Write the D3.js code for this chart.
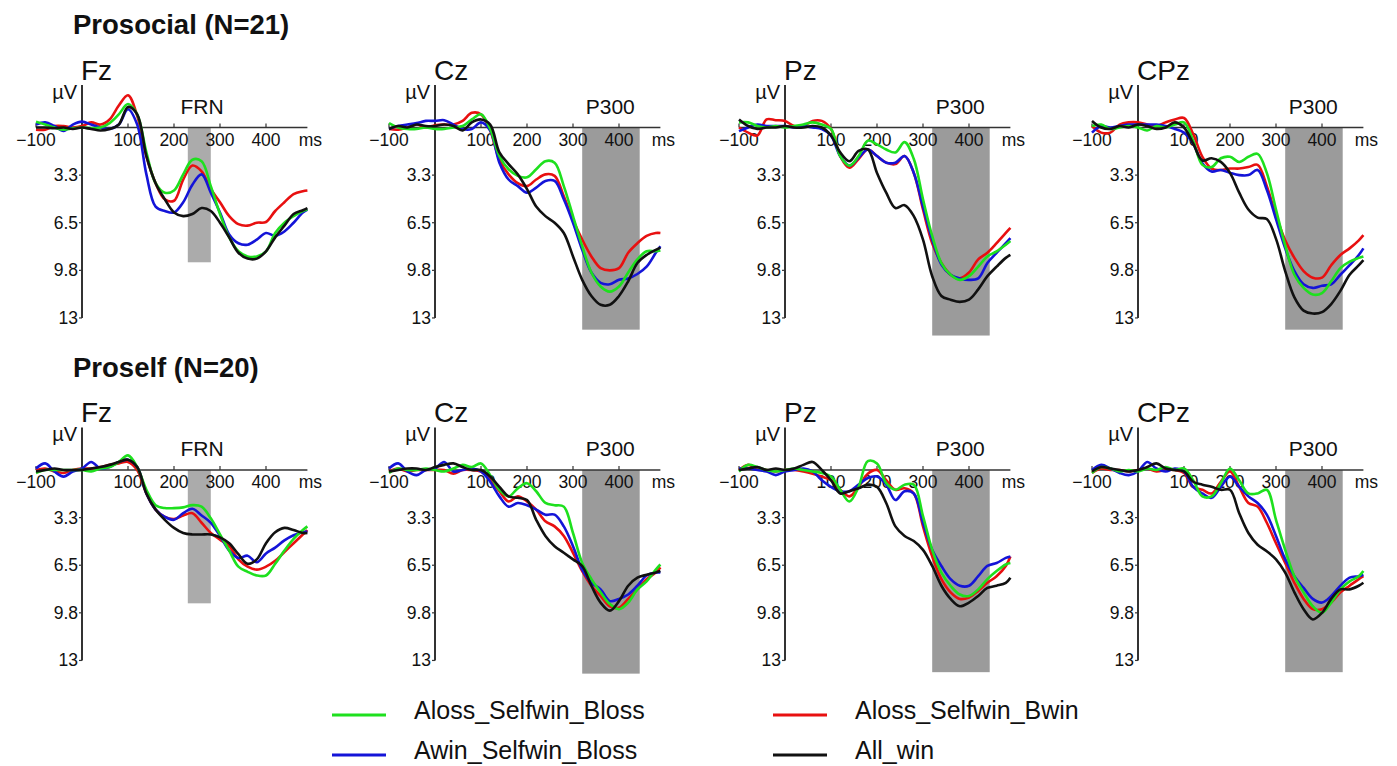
<!DOCTYPE html>
<meta charset="utf-8">
<style>
body { margin: 0; background: #fff; }
text { font-family: "Liberation Sans", Arial, sans-serif; fill: #111; }
.title { font-weight: bold; font-size: 27.5px; }
.elec { font-size: 28px; }
.unit { font-size: 20px; }
.tick { font-size: 17.5px; }
.win { font-size: 21px; }
.legend { font-size: 25px; }
.axis { stroke: #333; fill: none; }
.erp { fill: none; stroke-width: 2.6; stroke-linejoin: round; }
</style>
<svg width="1397" height="766"></svg>
<script src="https://d3js.org/d3.v7.min.js"></script>
<script>

var times = [-100,-80,-60,-40,-20,0,20,40,60,80,100,120,140,160,180,200,220,240,260,280,300,320,340,360,380,400,420,440,460,480,490];

var conditions = ["Aloss_Selfwin_Bloss", "Aloss_Selfwin_Bwin", "Awin_Selfwin_Bloss", "All_win"];
var colors = ["#1ee01e", "#e81010", "#1414d8", "#111111"];

var yTicks = [3.25, 6.5, 9.75, 13];
var yTickLabels = ["3.3", "6.5", "9.8", "13"];
var xTicks = [-100, 100, 200, 300, 400];
var xTickLabels = ["\u2212100", "100", "200", "300", "400"];

// Prosocial (N=21)
var proFzAlossBloss = [-0.4,-0.2,0.0,0.15,0.05,0.0,0.05,0.0,-0.3,-0.9,-1.6,-0.9,1.7,3.8,4.45,4.3,3.2,2.2,2.3,4.0,5.9,7.5,8.45,8.8,8.8,8.45,7.2,6.5,6.05,5.7,5.6];
var proFzAlossBwin  = [0.15,0.15,-0.1,-0.1,0.0,-0.1,-0.35,-0.2,-0.55,-1.5,-2.2,-0.8,1.95,3.8,4.9,5.0,3.55,2.6,3.0,4.2,5.1,6.05,6.6,6.7,6.5,6.45,5.7,5.1,4.55,4.35,4.3];
var proFzAwinBloss  = [-0.2,-0.35,-0.1,0.23,-0.2,-0.4,-0.2,0.0,0.1,-0.2,-1.25,-0.2,3.2,5.4,5.7,5.8,5.1,3.9,3.2,4.45,5.8,7.3,7.9,8.0,7.65,7.2,7.4,7.1,6.5,5.8,5.6];
var proFzAllWin     = [0,0,0.05,0,0.1,0,0.1,0.2,0.1,-0.2,-1.4,-0.9,1.95,3.8,4.9,5.8,6.05,5.9,5.5,5.7,6.5,7.5,8.55,8.95,8.95,8.45,7.5,6.7,5.9,5.65,5.5];

var proCzAlossBloss = [-0.3,0,0.1,0.1,0,0.1,0.1,0,-0.1,-0.55,-0.9,0.1,1.95,2.85,3.3,3.4,2.85,2.3,2.4,4.0,6.05,8.1,9.9,10.85,11.2,10.85,9.9,9.0,8.45,8.45,8.4];
var proCzAlossBwin  = [0.1,0.15,0,-0.2,0,-0.15,-0.2,-0.2,-0.45,-1.0,-0.9,0.2,2.2,3.2,3.8,4.0,3.55,3.2,3.3,4.7,6.3,7.65,8.8,9.6,9.75,9.6,8.55,7.9,7.4,7.2,7.2];
var proCzAwinBloss  = [0.1,-0.1,-0.2,-0.3,-0.45,-0.45,-0.5,-0.2,0.1,0.1,-0.35,0.2,2.4,3.55,4.0,4.45,4.1,3.65,3.65,4.9,6.5,8.35,9.9,10.6,10.7,10.4,10.3,10.0,9.5,8.55,8.1];
var proCzAllWin     = [0.1,-0.1,0,-0.2,-0.1,-0.1,-0.2,-0.1,0.2,-0.35,-0.55,-0.2,1.7,2.5,3.2,4.2,5.4,6.05,6.5,7.2,8.8,10.4,11.5,12.1,12.1,11.5,10.5,9.25,8.7,8.35,8.2];

var proPzAlossBloss = [-0.35,-0.35,-0.1,0,-0.1,0,-0.1,-0.2,-0.35,-0.2,0.1,1.95,2.6,1.95,0.9,1.15,1.5,1.7,1.0,2.15,4.9,7.4,9.25,10.05,10.4,10.15,9.5,8.8,8.45,8.0,7.75];
var proPzAlossBwin  = [0,0.35,0.55,-0.55,-0.5,-0.45,-0.1,-0.1,-0.45,-0.45,0.1,1.95,2.75,2.15,1.5,1.95,2.4,2.5,1.95,3.1,5.6,7.9,9.25,10.05,10.3,9.9,9.0,8.55,7.9,7.2,6.85];
var proPzAwinBloss  = [0.25,0,-0.2,-0.1,-0.1,-0.1,0,-0.1,0,0.1,0.55,1.95,2.6,2.05,1.5,1.95,2.4,2.4,1.95,3.1,5.4,7.65,9.35,10.05,10.3,10.4,10.3,9.25,8.55,7.9,7.55];
var proPzAllWin     = [-0.55,-0.1,0.1,0,0,-0.1,0,0,-0.1,0,0.55,1.7,2.3,1.6,1.5,3.1,4.45,5.5,5.3,6.05,7.65,10.15,11.5,11.75,11.9,11.75,11.05,10.15,9.5,8.9,8.7];

var proCPzAlossBloss = [-0.1,-0.2,0.1,0,-0.1,0,0.2,-0.1,0,-0.2,-0.35,0.9,2.55,2.7,2.1,2.0,2.35,2.0,1.8,3.1,5.6,8.05,10.05,10.95,11.4,11.3,10.5,9.6,9.15,8.9,8.8];
var proCPzAlossBwin  = [-0.1,0.35,0.35,-0.2,-0.35,-0.35,-0.2,-0.1,-0.35,-0.55,-0.65,0.45,2.0,2.8,2.9,2.8,2.8,2.7,2.55,4.0,6.0,7.7,8.9,9.8,10.25,10.25,9.4,8.7,8.25,7.7,7.35];
var proCPzAwinBloss  = [0.35,-0.1,0,-0.1,-0.2,-0.2,-0.2,-0.2,-0.1,0.1,0.35,1.1,2.45,3.0,2.9,3.1,3.25,3.25,2.9,4.25,6.25,8.25,9.8,10.7,10.95,10.8,10.7,10.05,9.4,8.7,8.25];
var proCPzAllWin     = [-0.45,0,0.1,-0.1,0,-0.2,-0.1,0.1,0,-0.35,0,1.1,2.25,2.1,2.35,3.1,4.45,5.6,6.15,6.25,7.6,9.8,11.6,12.5,12.7,12.6,12.05,11.15,10.05,9.4,9.05];

// Proself (N=20)
var selfFzAlossBloss = [0.2,0,0,0,0,0,0.1,-0.1,-0.2,-0.55,-1.0,-0.2,1.35,2.4,2.6,2.6,2.55,2.4,2.5,3.3,4.4,5.5,6.6,6.95,7.2,7.2,6.4,5.5,4.7,4.1,3.85];
var selfFzAlossBwin  = [0,-0.1,0.1,0.2,0,-0.1,-0.1,-0.2,-0.35,-0.45,-0.55,0,1.6,2.7,3.2,3.35,3.1,2.95,3.6,4.3,4.75,5.2,6.1,6.6,6.8,6.6,6.2,5.6,5.0,4.4,4.1];
var selfFzAwinBloss  = [-0.1,-0.45,0.1,0.45,0.1,-0.1,-0.55,-0.1,-0.2,-0.55,-0.7,-0.2,1.6,2.7,3.2,3.4,2.95,2.65,3.1,3.6,4.5,5.5,6.0,5.85,6.3,5.7,5.3,4.8,4.45,4.25,4.2];
var selfFzAllWin     = [0.1,0,-0.1,0,0,0,-0.1,-0.2,-0.35,-0.55,-0.7,-0.2,1.6,2.7,3.4,3.95,4.3,4.4,4.4,4.4,4.6,5.0,5.75,6.4,6.1,5.0,4.25,3.95,4.1,4.3,4.3];

var selfCzAlossBloss = [0.2,-0.1,0,0,-0.1,0,0.1,-0.1,-0.35,-0.2,-0.45,0.35,1.35,1.8,1.25,0.9,1.45,2.25,2.4,2.5,4.3,6.35,7.45,8.35,9.15,9.5,9.05,8.15,7.6,6.8,6.45];
var selfCzAlossBwin  = [0.1,-0.1,0.1,0,0,0,0,0.25,0,0,0.1,0.65,1.45,2.15,1.8,2.15,2.7,3.5,3.85,4.5,5.65,6.9,7.9,8.6,9.3,9.4,8.8,8.15,7.45,7.0,6.65];
var selfCzAwinBloss  = [-0.1,-0.45,0.1,0.35,0,-0.1,-0.55,0.1,0,-0.1,0.1,0.8,1.8,2.5,2.25,2.4,2.7,3.05,3.05,3.85,5.2,6.8,7.7,8.15,8.95,8.8,8.5,7.9,7.2,7.0,7.0];
var selfCzAllWin     = [0.1,0,-0.1,-0.1,0,-0.2,-0.35,-0.45,-0.2,0,0,0.45,1.15,1.8,1.9,2.05,3.4,4.5,5.2,5.65,6.1,6.55,7.9,9.05,9.6,8.95,7.9,7.35,7.15,7.0,6.9];

var selfPzAlossBloss = [0.1,-0.35,-0.2,0,0.1,0,-0.1,0,0.1,0.2,0.45,1.35,2.15,1.15,-0.6,-0.45,0.9,1.35,1.0,1.0,3.15,5.45,7.0,7.9,8.5,8.6,8.15,7.45,6.9,6.45,6.35];
var selfPzAlossBwin  = [0,-0.35,-0.1,0,0.1,0,0,0.1,0.25,0.45,0.7,1.35,1.8,1.15,0.25,0,0.7,1.35,1.25,1.6,3.85,5.9,7.45,8.35,8.8,8.7,8.25,7.7,7.25,6.55,5.9];
var selfPzAwinBloss  = [-0.1,-0.1,0,0.1,0.35,0.1,0,-0.1,0.1,0.7,1.15,1.45,1.45,1.0,0.55,0.45,1.0,2.05,1.45,1.6,3.6,5.45,6.55,7.45,7.9,7.9,7.25,6.55,6.35,6.0,5.9];
var selfPzAllWin     = [0,-0.1,-0.2,0,-0.1,0,-0.1,-0.35,-0.55,0,0.7,1.6,1.45,1.25,1.0,1.15,2.25,3.85,4.5,4.85,5.45,6.55,7.9,8.8,9.3,9.05,8.6,8.05,7.9,7.7,7.35];

var selfCPzAlossBloss = [0.2,-0.2,-0.1,0.1,0,0.1,-0.1,0,-0.2,0,-0.1,0.7,1.8,1.8,0.9,-0.1,0.7,1.6,1.6,1.35,3.4,5.45,7.25,8.35,9.3,9.75,9.05,8.15,7.6,7.25,6.9];
var selfCPzAlossBwin  = [0.2,-0.1,0,0,0.1,0,-0.1,0.1,0,0,0.2,1.15,1.35,1.6,0.8,0.1,1.15,2.25,2.5,3.6,5.0,6.35,7.7,8.8,9.5,9.5,9.05,8.35,7.9,7.45,7.25];
var selfCPzAwinBloss  = [0,-0.35,-0.1,0.2,0.35,0.1,-0.55,-0.1,0.1,-0.1,0.1,1.15,1.6,1.9,1.15,0.45,1.15,1.8,2.25,3.05,4.5,6.1,7.25,8.05,8.8,9.05,8.6,7.9,7.35,7.25,7.15];
var selfCPzAllWin     = [0.1,-0.2,-0.1,0,0.1,0,-0.2,-0.45,-0.1,0,0.1,0.8,1.0,1.15,1.35,1.35,2.95,4.3,5.1,5.55,6.1,7.0,8.35,9.5,10.2,9.75,8.8,8.15,8.15,7.9,7.7];

// analysis windows in ms, and how deep each panel's shading reaches (µV)
var frnWindow = [230, 280];
var p300Window = [320, 445];
var windowDepth = [9.2, 13.8, 14.2, 13.8, 9.1, 13.9, 13.8, 13.8];

var electrodes = ["Fz", "Cz", "Pz", "CPz"];
var groupTitles = ["Prosocial (N=21)", "Proself (N=20)"];

var series = [
  [proFzAlossBloss, proFzAlossBwin, proFzAwinBloss, proFzAllWin],
  [proCzAlossBloss, proCzAlossBwin, proCzAwinBloss, proCzAllWin],
  [proPzAlossBloss, proPzAlossBwin, proPzAwinBloss, proPzAllWin],
  [proCPzAlossBloss, proCPzAlossBwin, proCPzAwinBloss, proCPzAllWin],
  [selfFzAlossBloss, selfFzAlossBwin, selfFzAwinBloss, selfFzAllWin],
  [selfCzAlossBloss, selfCzAlossBwin, selfCzAwinBloss, selfCzAllWin],
  [selfPzAlossBloss, selfPzAlossBwin, selfPzAwinBloss, selfPzAllWin],
  [selfCPzAlossBloss, selfCPzAlossBwin, selfCPzAwinBloss, selfCPzAllWin]
];

var svg = d3.select("svg");

// layout
var axisX = [82, 435, 785, 1138];
var zeroY = [127.5, 470];
var pxPer100ms = 46;
var pxPerUv = 14.65;

// group titles
groupTitles.forEach(function(t, i) {
  svg.append("text").attr("class", "title")
    .attr("x", 73).attr("y", i === 0 ? 34 : 377).text(t);
});

series.forEach(function(lines, p) {
  var row = Math.floor(p / 4), col = p % 4;
  var ax = axisX[col], zy = zeroY[row];

  var x = d3.scaleLinear().domain([0, 100]).range([ax, ax + pxPer100ms]);
  var y = d3.scaleLinear().domain([0, 13]).range([zy, zy + 13 * pxPerUv]);

  var g = svg.append("g");

  // window shading
  var isFrn = col === 0;
  var win = isFrn ? frnWindow : p300Window;
  g.append("rect")
    .attr("x", x(win[0]))
    .attr("y", y(0))
    .attr("width", x(win[1]) - x(win[0]))
    .attr("height", y(windowDepth[p]) - y(0))
    .attr("fill", isFrn ? "#ababab" : "#9b9b9b");

  g.append("text").attr("class", "win")
    .attr("x", x(isFrn ? 261 : 381)).attr("y", zy - 14)
    .attr("text-anchor", "middle")
    .text(isFrn ? "FRN" : "P300");

  // x axis
  g.append("line").attr("class", "axis")
    .attr("x1", x(-100)).attr("x2", x(490))
    .attr("y1", zy).attr("y2", zy)
    .attr("stroke-width", 1.5);
  g.selectAll(".xt").data(xTicks).enter().append("line")
    .attr("class", "axis")
    .attr("x1", function(d) { return x(d); })
    .attr("x2", function(d) { return x(d); })
    .attr("y1", zy).attr("y2", zy - 4)
    .attr("stroke-width", 1.2);
  g.selectAll(".xl").data(xTicks).enter().append("text")
    .attr("class", "tick")
    .attr("x", function(d) { return x(d); })
    .attr("y", zy + 18)
    .attr("text-anchor", "middle")
    .text(function(d, i) { return xTickLabels[i]; });
  g.append("text").attr("class", "tick")
    .attr("x", x(490) + 3).attr("y", zy + 18)
    .attr("text-anchor", "middle").text("ms");

  // y axis
  g.append("line").attr("class", "axis")
    .attr("x1", ax).attr("x2", ax)
    .attr("y1", y(-2.9)).attr("y2", y(13))
    .attr("stroke-width", 2);
  g.selectAll(".yt").data(yTicks).enter().append("line")
    .attr("class", "axis")
    .attr("x1", ax - 3).attr("x2", ax)
    .attr("y1", function(d) { return y(d); })
    .attr("y2", function(d) { return y(d); })
    .attr("stroke-width", 1.2);
  g.selectAll(".yl").data(yTicks).enter().append("text")
    .attr("class", "tick")
    .attr("x", ax - 4)
    .attr("y", function(d) { return y(d) + 6; })
    .attr("text-anchor", "end")
    .text(function(d, i) { return yTickLabels[i]; });

  g.append("text").attr("class", "unit")
    .attr("x", ax - 5).attr("y", zy - 29)
    .attr("text-anchor", "end").text("\u00b5V");
  g.append("text").attr("class", "elec")
    .attr("x", ax - 1).attr("y", zy - 48)
    .text(electrodes[col]);

  // ERP waveforms
  var line = d3.line()
    .x(function(d, i) { return x(times[i]); })
    .y(function(d) { return y(d); })
    .curve(d3.curveCatmullRom.alpha(0.5));

  [1, 2, 0, 3].forEach(function(k) {
    g.append("path").attr("class", "erp")
      .attr("d", line(lines[k]))
      .attr("stroke", colors[k]);
  });
});

// legend
var legendPos = [[332, 715], [773, 715], [332, 755], [773, 755]];
conditions.forEach(function(c, k) {
  var lp = legendPos[k];
  svg.append("line")
    .attr("x1", lp[0]).attr("x2", lp[0] + 54)
    .attr("y1", lp[1]).attr("y2", lp[1])
    .attr("stroke", colors[k]).attr("stroke-width", 3);
  svg.append("text").attr("class", "legend")
    .attr("x", lp[0] + 82).attr("y", lp[1] + 4)
    .text(c);
});
</script>
